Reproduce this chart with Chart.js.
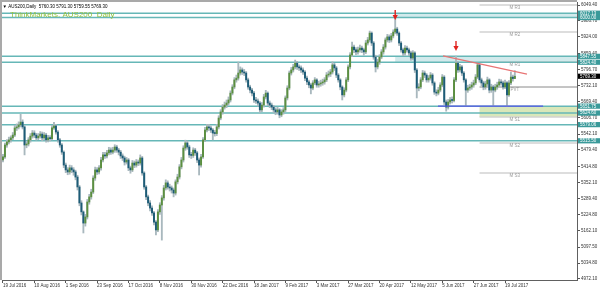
<!DOCTYPE html>
<html><head><meta charset="utf-8">
<script src="https://cdn.jsdelivr.net/npm/chart.js@4/dist/chart.umd.min.js"></script>
<style>html,body{margin:0;padding:0;background:#fff;overflow:hidden}canvas{display:block}</style>
</head><body>
<canvas id="c" width="600" height="293"></canvas>
<script>
// ---- data (AUS200, Daily) ----
const xLabels = ['19 Jul 2016','10 Aug 2016','1 Sep 2016','23 Sep 2016','17 Oct 2016','8 Nov 2016','30 Nov 2016','22 Dec 2016','18 Jan 2017','9 Feb 2017','3 Mar 2017','27 Mar 2017','20 Apr 2017','12 May 2017','5 Jun 2017','27 Jun 2017','19 Jul 2017'];
const xTickBars = [0,16,32,48,64,80,96,112,128,144,160,176,192,208,224,240,256];

const opens = [
5440,5452,5499,5511,5519,5527,5538,5566,5570,5578,
5589,5570,5499,5503,5519,5534,5546,5538,5527,5534,
5542,5527,5538,5519,5527,5524,5566,5574,5550,5519,
5499,5471,5420,5401,5393,5409,5401,5393,5373,5334,
5271,5236,5192,5216,5275,5295,5314,5369,5401,5393,
5409,5440,5460,5456,5468,5479,5471,5479,5491,5479,
5471,5456,5448,5432,5440,5409,5401,5428,5420,5432,
5428,5448,5389,5334,5295,5271,5251,5232,5196,5165,
5236,5263,5291,5330,5350,5334,5330,5322,5310,5354,
5373,5413,5440,5487,5507,5491,5460,5458,5479,5468,
5440,5420,5452,5519,5558,5570,5566,5558,5546,5544,
5570,5605,5629,5648,5656,5664,5676,5703,5727,5755,
5762,5782,5794,5786,5782,5755,5727,5715,5703,5676,
5672,5664,5637,5656,5688,5703,5664,5656,5648,5637,
5629,5637,5617,5629,5637,5684,5723,5782,5794,5806,
5821,5806,5802,5794,5786,5762,5747,5735,5723,5743,
5755,5735,5739,5743,5747,5755,5774,5778,5786,5814,
5802,5774,5755,5727,5696,5715,5755,5806,5853,5884,
5873,5865,5873,5880,5873,5865,5900,5912,5939,5900,
5845,5806,5825,5845,5865,5884,5912,5924,5912,5928,
5943,5955,5939,5900,5873,5861,5880,5873,5861,5841,
5861,5794,5723,5727,5755,5782,5774,5755,5762,5774,
5743,5707,5703,5715,5735,5766,5668,5648,5668,5676,
5674,5755,5821,5794,5806,5782,5755,5715,5723,5727,
5735,5743,5766,5814,5755,5743,5727,5739,5755,5715,
5727,5715,5727,5735,5747,5743,5727,5743,5696,5743,
5766,5760.30];
const highs = [
5462,5507,5520,5530,5535,5548,5576,5582,5590,5620,
5598,5575,5512,5528,5544,5556,5555,5545,5544,5552,
5550,5548,5545,5537,5536,5576,5588,5580,5556,5525,
5505,5476,5428,5410,5420,5418,5410,5400,5380,5340,
5280,5240,5226,5285,5305,5325,5378,5412,5410,5418,
5450,5470,5470,5478,5490,5488,5490,5500,5498,5486,
5478,5464,5455,5450,5446,5416,5438,5436,5442,5440,
5460,5454,5394,5340,5302,5280,5260,5238,5202,5245,
5272,5300,5340,5362,5358,5345,5338,5330,5362,5384,
5422,5450,5496,5518,5515,5498,5470,5488,5486,5474,
5448,5462,5528,5568,5580,5580,5574,5564,5556,5580,
5614,5638,5658,5668,5676,5688,5712,5736,5764,5774,
5825,5806,5802,5796,5788,5762,5734,5722,5710,5686,
5680,5670,5666,5698,5714,5708,5672,5664,5655,5645,
5648,5642,5638,5646,5692,5732,5790,5804,5816,5833,
5828,5814,5810,5802,5792,5770,5754,5742,5752,5764,
5760,5750,5754,5758,5764,5784,5790,5796,5826,5820,
5808,5780,5760,5732,5724,5764,5814,5862,5904,5892,
5882,5884,5892,5888,5880,5910,5922,5947,5944,5906,
5852,5836,5854,5874,5894,5920,5934,5932,5938,5952,
5998,5962,5944,5906,5880,5890,5888,5880,5868,5870,
5866,5800,5740,5764,5792,5790,5780,5772,5784,5780,
5748,5716,5726,5744,5776,5772,5676,5678,5686,5688,
5764,5849,5828,5816,5812,5788,5760,5734,5738,5746,
5754,5776,5821,5818,5762,5750,5750,5766,5760,5738,
5734,5738,5746,5758,5756,5750,5754,5748,5752,5786,
5774,5791.30];
const lows = [
5432,5446,5490,5503,5510,5520,5532,5556,5562,5570,
5562,5460,5488,5495,5510,5526,5528,5518,5520,5526,
5516,5519,5510,5511,5515,5519,5560,5542,5510,5490,
5462,5410,5390,5382,5384,5390,5380,5362,5322,5260,
5224,5153,5180,5208,5266,5286,5308,5360,5383,5385,
5400,5432,5446,5448,5460,5462,5464,5470,5470,5460,
5446,5438,5420,5424,5398,5388,5394,5410,5412,5418,
5420,5380,5325,5284,5260,5240,5222,5185,5145,5158,
5226,5125,5282,5322,5325,5318,5310,5295,5302,5346,
5365,5405,5432,5478,5482,5450,5446,5450,5458,5430,
5381,5412,5446,5512,5550,5556,5548,5519,5534,5536,
5562,5598,5620,5640,5646,5656,5668,5696,5720,5746,
5754,5774,5776,5772,5746,5718,5704,5692,5666,5662,
5652,5626,5630,5648,5680,5654,5646,5638,5626,5618,
5620,5606,5610,5620,5630,5676,5716,5774,5786,5798,
5796,5792,5784,5776,5752,5736,5724,5700,5716,5736,
5726,5726,5730,5734,5738,5748,5766,5768,5778,5792,
5764,5746,5716,5676,5688,5708,5748,5798,5846,5862,
5854,5856,5864,5862,5852,5858,5892,5904,5890,5836,
5786,5798,5816,5838,5856,5876,5904,5902,5904,5920,
5936,5930,5890,5864,5850,5852,5864,5850,5832,5834,
5784,5684,5712,5720,5748,5764,5746,5746,5754,5734,
5698,5692,5696,5708,5728,5658,5632,5640,5660,5664,
5668,5748,5784,5786,5772,5746,5652,5706,5714,5718,
5726,5736,5760,5746,5732,5716,5718,5730,5704,5706,
5652,5708,5718,5728,5734,5718,5720,5650,5690,5736,
5750,5759.55];
const closes = [
5452,5499,5511,5519,5527,5538,5566,5570,5578,5589,
5570,5499,5503,5519,5534,5546,5538,5527,5534,5542,
5527,5538,5519,5527,5524,5566,5574,5550,5519,5499,
5471,5420,5401,5393,5409,5401,5393,5373,5334,5271,
5236,5192,5216,5275,5295,5314,5369,5401,5393,5409,
5440,5460,5456,5468,5479,5471,5479,5491,5479,5471,
5456,5448,5432,5440,5409,5401,5428,5420,5432,5428,
5448,5389,5334,5295,5271,5251,5232,5196,5165,5236,
5263,5291,5330,5350,5334,5330,5322,5310,5354,5373,
5413,5440,5487,5507,5491,5460,5458,5479,5468,5440,
5420,5452,5519,5558,5570,5566,5558,5546,5544,5570,
5605,5629,5648,5656,5664,5676,5703,5727,5755,5762,
5782,5794,5786,5782,5755,5727,5715,5703,5676,5672,
5664,5637,5656,5688,5703,5664,5656,5648,5637,5629,
5637,5617,5629,5637,5684,5723,5782,5794,5806,5821,
5806,5802,5794,5786,5762,5747,5735,5723,5743,5755,
5735,5739,5743,5747,5755,5774,5778,5786,5814,5802,
5774,5755,5727,5696,5715,5755,5806,5853,5884,5873,
5865,5873,5880,5873,5865,5900,5912,5939,5900,5845,
5806,5825,5845,5865,5884,5912,5924,5912,5928,5943,
5955,5939,5900,5873,5861,5880,5873,5861,5841,5861,
5794,5723,5727,5755,5782,5774,5755,5762,5774,5743,
5707,5703,5715,5735,5766,5668,5648,5668,5676,5674,
5755,5821,5794,5806,5782,5755,5715,5723,5727,5735,
5743,5766,5814,5755,5743,5727,5739,5755,5715,5727,
5715,5727,5735,5747,5743,5727,5743,5696,5743,5766,
5760.30,5769.30];

const yTicks = [6049.40,5986.70,5924.00,5859.40,5796.70,5732.10,5669.40,5606.70,5542.10,5479.40,5414.80,5352.10,5289.40,5224.80,5162.10,5097.50,5034.80,4972.10];
const levelLines = [6017.13,6000.00,5847.55,5824.40,5651.75,5624.60,5579.06,5515.50];
const zoneTop = [6017.13,6000.00];
const zoneMid = [5847.55,5824.40];
const zoneStartBar = 200;
const greenZone = [5651.75,5609.0];
const pivotStartBar = 243;
const pivotNames = ['M R3','M R2','M R1','PVT','M S1','M S2','M S3'];
const pivotValues = [6049.4,5943.3,5825.3,5727.0,5609.0,5506.8,5388.9];
const trendLine = [{x:224.4,y:5849},{x:267.2,y:5778}];
const supportLine = [{x:221.8,y:5651.75},{x:275.4,y:5651.75}];
const arrowBars = [200,231];
const arrowTips = [5990,5869];
const lastPrice = 5769.30;
const header = '\u25BC AUS200,Daily  5760.30 5791.30 5759.55 5769.30';
const title = 'ThinkMarkets: AUS200  Daily';

const bars = closes.map((c,i)=>i);
const wickData = bars.map(i=>({x:i, y:[lows[i], highs[i]]}));
const bodyData = bars.map(i=>({x:i, y:[opens[i], closes[i]]}));

const BULL='#5b8f40', BEAR='#1d5c77', WICK='#a9b8be', TEAL='#66b7b7', ZONE='#d2eaec';
const FONT='"Liberation Sans","DejaVu Sans",sans-serif';

const overlay = {
  id:'overlay',
  beforeDatasetsDraw(chart){
    const {ctx, chartArea:a, scales:{x,y}} = chart;
    ctx.save();
    ctx.beginPath(); ctx.rect(a.left,a.top,a.right-a.left,a.bottom-a.top); ctx.clip();
    const zx = x.getPixelForValue(zoneStartBar);
    [zoneTop, zoneMid].forEach(z=>{
      const y1=y.getPixelForValue(z[0]), y2=y.getPixelForValue(z[1]);
      ctx.fillStyle=ZONE; ctx.fillRect(zx, y1, a.right-zx, y2-y1);
    });
    const gx = x.getPixelForValue(pivotStartBar);
    const g1=y.getPixelForValue(greenZone[0]), g2=y.getPixelForValue(greenZone[1]);
    ctx.fillStyle='#d9e7b9'; ctx.fillRect(gx, g1, a.right-gx, g2-g1);
    pivotValues.forEach((v,k)=>{
      const py=y.getPixelForValue(v);
      ctx.strokeStyle = pivotNames[k]==='PVT' ? '#8a8a8a' : '#d2d2d2';
      ctx.lineWidth = pivotNames[k]==='PVT' ? 1 : 1.5;
      ctx.beginPath(); ctx.moveTo(gx,py); ctx.lineTo(a.right,py); ctx.stroke();
    });
    levelLines.forEach(v=>{
      const py=y.getPixelForValue(v);
      ctx.strokeStyle=TEAL; ctx.lineWidth=1.5;
      ctx.beginPath(); ctx.moveTo(a.left,py); ctx.lineTo(a.right,py); ctx.stroke();
    });
    ctx.restore();
  },
  afterDatasetsDraw(chart){
    const {ctx, scales:{x,y}} = chart;
    ctx.save();
    arrowBars.forEach((b,k)=>{
      const ax=x.getPixelForValue(b), tip=y.getPixelForValue(arrowTips[k]);
      ctx.strokeStyle='#e0231f'; ctx.fillStyle='#e0231f'; ctx.lineWidth=1.4;
      ctx.beginPath(); ctx.moveTo(ax,tip-10); ctx.lineTo(ax,tip-4); ctx.stroke();
      ctx.beginPath(); ctx.moveTo(ax-2.6,tip-5); ctx.lineTo(ax+2.6,tip-5); ctx.lineTo(ax,tip); ctx.closePath(); ctx.fill();
    });
    ctx.font='4.5px '+FONT; ctx.fillStyle='#9a9a9a'; ctx.textAlign='center'; ctx.textBaseline='top';
    const lx = x.getPixelForValue(261);
    pivotValues.forEach((v,k)=>{ ctx.fillText(pivotNames[k], lx, y.getPixelForValue(v)+0.5); });
    ctx.restore();
  },
  afterDraw(chart){
    const {ctx, chartArea:a, scales:{y}} = chart;
    ctx.save();
    ctx.fillStyle='#a9a9a9';
    ctx.fillRect(0,0,a.right,2);
    ctx.fillRect(0,0,2,a.bottom);
    ctx.font='4.5px '+FONT; ctx.textBaseline='middle'; ctx.textAlign='left';
    levelLines.forEach(v=>{
      const py=y.getPixelForValue(v);
      ctx.fillStyle='#3a9a9a'; ctx.fillRect(a.right+1, py-2.6, 22, 5.2);
      ctx.fillStyle='#ffffff'; ctx.fillText(v.toFixed(2), a.right+3, py+0.2);
    });
    const lp=y.getPixelForValue(lastPrice);
    ctx.fillStyle='#000000'; ctx.fillRect(a.right+1, lp-2.6, 22, 5.2);
    ctx.fillStyle='#ffffff'; ctx.fillText(lastPrice.toFixed(2), a.right+3, lp+0.2);
    ctx.fillStyle='#000000'; ctx.font='4.5px '+FONT; ctx.textBaseline='alphabetic';
    ctx.fillText(header, 2.5, 7.5);
    ctx.fillStyle='#93c13e'; ctx.font='8px '+FONT;
    ctx.fillText(title, 10, 17);
    ctx.restore();
  }
};

new Chart(document.getElementById('c'), {
  type:'bar',
  data:{ datasets:[
    {type:'line', data:trendLine, borderColor:'#e87474', borderWidth:1.3, pointRadius:0, order:0},
    {type:'line', data:supportLine, borderColor:'#5656e4', borderWidth:1.3, pointRadius:0, order:0},
    {data:bodyData, barThickness:1.3, minBarLength:1, grouped:false, order:1,
      backgroundColor: c => closes[c.dataIndex] >= opens[c.dataIndex] ? BULL : BEAR},
    {data:wickData, barThickness:1.2, grouped:false, order:2, backgroundColor:WICK}
  ]},
  options:{
    responsive:false, animation:false, devicePixelRatio:1,
    layout:{padding:{left:2, top:2, right:0, bottom:0}},
    plugins:{legend:{display:false}, tooltip:{enabled:false}},
    scales:{
      x:{type:'linear', min:-0.5, max:292.7, offset:false,
        grid:{display:true, drawOnChartArea:false, tickLength:3, color:'#555', offset:false},
        border:{display:true, color:'#606060', width:1},
        afterBuildTicks:s=>{ s.ticks = xTickBars.map(v=>({value:v})); },
        afterFit:s=>{ s.height=13; s.paddingLeft=0; s.paddingRight=0; },
        ticks:{autoSkip:false, maxRotation:0, minRotation:0, align:'start', padding:0,
          color:'#333', font:{size:4.5, family:FONT},
          callback:(v,i)=>xLabels[i]}
      },
      y:{type:'linear', position:'right', min:4968.14, max:6061.24, beginAtZero:false,
        grid:{display:true, drawOnChartArea:false, tickLength:3, color:'#555'},
        border:{display:true, color:'#606060', width:1},
        afterBuildTicks:s=>{ s.ticks = yTicks.map(v=>({value:v})); },
        afterFit:s=>{ s.width=23; s.paddingTop=0; s.paddingBottom=0; },
        ticks:{padding:1, color:'#333', font:{size:4.5, family:FONT},
          callback:v=>Number(v).toFixed(2)}
      }
    }
  },
  plugins:[overlay]
});
</script>
</body></html>
